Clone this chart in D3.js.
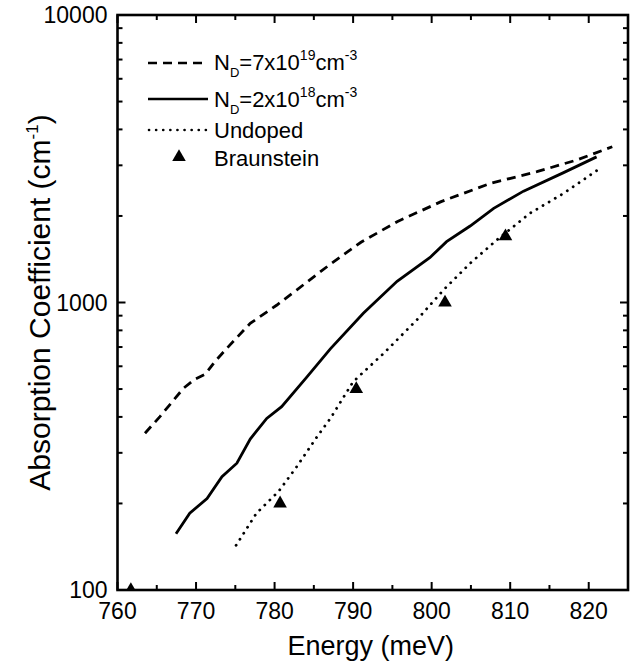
<!DOCTYPE html>
<html><head><meta charset="utf-8">
<script src="https://cdn.jsdelivr.net/npm/d3@7"></script>
<style>body{margin:0;background:#fff}svg{display:block}text{font-family:"Liberation Sans",Arial,Helvetica,sans-serif;fill:#000}</style>
</head><body><svg id="c" width="639" height="667"></svg>
<script>
// ---- data ----
const energyHigh = [763.5, 765.4, 768.4, 769.8, 771.2, 772.4, 774.3, 776.9, 780.3, 782.8, 786.8, 791.0, 795.6, 801.2, 807.5, 813.4, 818.5, 823.0];
const alphaHigh  = [351, 401, 503, 540, 564, 623, 711, 846, 980, 1105, 1340, 1620, 1910, 2243, 2597, 2851, 3132, 3483];
const energyMid = [767.45, 769.2, 771.4, 773.3, 775.2, 776.9, 779.0, 780.9, 784.1, 787.1, 791.3, 795.6, 799.8, 801.9, 804.9, 807.9, 811.7, 816.8, 821.0];
const alphaMid  = [157, 185, 208, 248, 276, 335, 395, 434, 550, 690, 917, 1185, 1435, 1628, 1845, 2126, 2440, 2830, 3210];
const energyUndoped = [775.1, 777.7, 780.5, 782.8, 785.4, 787.1, 790.0, 793.9, 798.1, 801.5, 804.9, 808.3, 812.5, 816.8, 821.0];
const alphaUndoped  = [143, 185, 220, 268, 341, 395, 530, 666, 869, 1105, 1369, 1650, 2042, 2397, 2873];
const energyBraun = [761.7, 780.7, 790.4, 801.7, 809.4];
const alphaBraun  = [100, 200, 500, 1000, 1700];
const xTicks = [760, 770, 780, 790, 800, 810, 820];
const yTicks = [100, 1000, 10000];

// ---- layout ----
const svg = d3.select("#c");
const L = 117.5, R = 628, T = 15, B = 590;
const x = d3.scaleLinear().domain([760, 825]).range([L, R]);
const y = d3.scaleLog().domain([100, 10000]).range([B, T]);

const defs = svg.append("defs");
defs.append("clipPath").attr("id", "clip").append("rect")
  .attr("x", L).attr("y", T).attr("width", R - L).attr("height", B - T);

const plot = svg.append("g").attr("clip-path", "url(#clip)");
const line = d3.line().x(d => x(d[0])).y(d => y(d[1]));
const zip = (a, b) => a.map((v, i) => [v, b[i]]);

plot.append("path").datum(zip(energyHigh, alphaHigh)).attr("d", line)
  .attr("fill", "none").attr("stroke", "#000").attr("stroke-width", 2.8).attr("stroke-dasharray", "9,6");
plot.append("path").datum(zip(energyMid, alphaMid)).attr("d", line)
  .attr("fill", "none").attr("stroke", "#000").attr("stroke-width", 2.8);
plot.append("path").datum(zip(energyUndoped, alphaUndoped)).attr("d", line)
  .attr("fill", "none").attr("stroke", "#000").attr("stroke-width", 2.8)
  .attr("stroke-dasharray", "0.1,7").attr("stroke-linecap", "round");
const tri = d3.symbol().type(d3.symbolTriangle).size(80);
plot.selectAll("path.tri").data(zip(energyBraun, alphaBraun)).join("path").attr("class", "tri")
  .attr("d", tri).attr("transform", d => `translate(${x(d[0])},${y(d[1])})`).attr("fill", "#000");

// ---- axes ----
const minorX = d3.range(765, 825, 10);
const minorY = [];
[100, 1000].forEach(p => { for (let k = 2; k <= 9; k++) minorY.push(p * k); });
const tg = svg.append("g").attr("stroke", "#000").attr("stroke-width", 2);
xTicks.forEach(v => {
  tg.append("line").attr("x1", x(v)).attr("x2", x(v)).attr("y1", B).attr("y2", B - 8);
  tg.append("line").attr("x1", x(v)).attr("x2", x(v)).attr("y1", T).attr("y2", T + 8);
});
minorX.forEach(v => {
  tg.append("line").attr("x1", x(v)).attr("x2", x(v)).attr("y1", B).attr("y2", B - 5);
  tg.append("line").attr("x1", x(v)).attr("x2", x(v)).attr("y1", T).attr("y2", T + 5);
});
yTicks.forEach(v => {
  tg.append("line").attr("x1", L).attr("x2", L + 8).attr("y1", y(v)).attr("y2", y(v));
  tg.append("line").attr("x1", R).attr("x2", R - 8).attr("y1", y(v)).attr("y2", y(v));
});
minorY.forEach(v => {
  tg.append("line").attr("x1", L).attr("x2", L + 5).attr("y1", y(v)).attr("y2", y(v));
  tg.append("line").attr("x1", R).attr("x2", R - 5).attr("y1", y(v)).attr("y2", y(v));
});
svg.append("rect").attr("x", L).attr("y", T).attr("width", R - L).attr("height", B - T)
  .attr("fill", "none").attr("stroke", "#000").attr("stroke-width", 2.6);

svg.append("g").selectAll("text").data(xTicks).join("text")
  .attr("x", d => x(d)).attr("y", B + 29).attr("text-anchor", "middle")
  .attr("font-size", 23).text(d => d);
svg.append("g").selectAll("text").data(yTicks).join("text")
  .attr("x", L - 10).attr("y", d => y(d) + 8).attr("text-anchor", "end")
  .attr("font-size", 23).text(d => d);

svg.append("text").attr("x", (L + R) / 2 - 2).attr("y", 655).attr("text-anchor", "middle")
  .attr("font-size", 27).text("Energy (meV)");
const yt = svg.append("text").attr("transform", `translate(50,${(T + B) / 2}) rotate(-90)`)
  .attr("text-anchor", "middle").attr("font-size", 30);
yt.append("tspan").text("Absorption Coefficient (cm");
yt.append("tspan").attr("font-size", 17).attr("dy", -12).text("-1");
yt.append("tspan").attr("dy", 12).text(")");

// ---- legend ----
const lg = svg.append("g");
const lx1 = 148, lx2 = 208, tx = 214;
function richLabel(yb, base, num, exp) {
  const t = lg.append("text").attr("x", tx).attr("y", yb).attr("font-size", 22);
  t.append("tspan").text("N");
  t.append("tspan").attr("font-size", 13).attr("dy", 7).text("D");
  t.append("tspan").attr("dy", -7).text("=" + base + "x10");
  t.append("tspan").attr("font-size", 14).attr("dy", -10).text(num);
  t.append("tspan").attr("dy", 10).text("cm");
  t.append("tspan").attr("font-size", 14).attr("dy", -10).text(exp);
}
lg.append("line").attr("x1", lx1).attr("x2", lx2).attr("y1", 63).attr("y2", 63)
  .attr("stroke", "#000").attr("stroke-width", 2.6).attr("stroke-dasharray", "9,6");
richLabel(70, "7", "19", "-3");
lg.append("line").attr("x1", lx1).attr("x2", lx2).attr("y1", 99).attr("y2", 99)
  .attr("stroke", "#000").attr("stroke-width", 2.6);
richLabel(107, "2", "18", "-3");
lg.append("line").attr("x1", lx1 + 1).attr("x2", lx2).attr("y1", 130).attr("y2", 130)
  .attr("stroke", "#000").attr("stroke-width", 2.6).attr("stroke-dasharray", "0.1,7").attr("stroke-linecap", "round");
lg.append("text").attr("x", tx).attr("y", 138).attr("font-size", 22).text("Undoped");
lg.append("path").attr("d", tri).attr("transform", "translate(179,157)").attr("fill", "#000");
lg.append("text").attr("x", tx).attr("y", 166).attr("font-size", 22).text("Braunstein");
</script></body></html>
